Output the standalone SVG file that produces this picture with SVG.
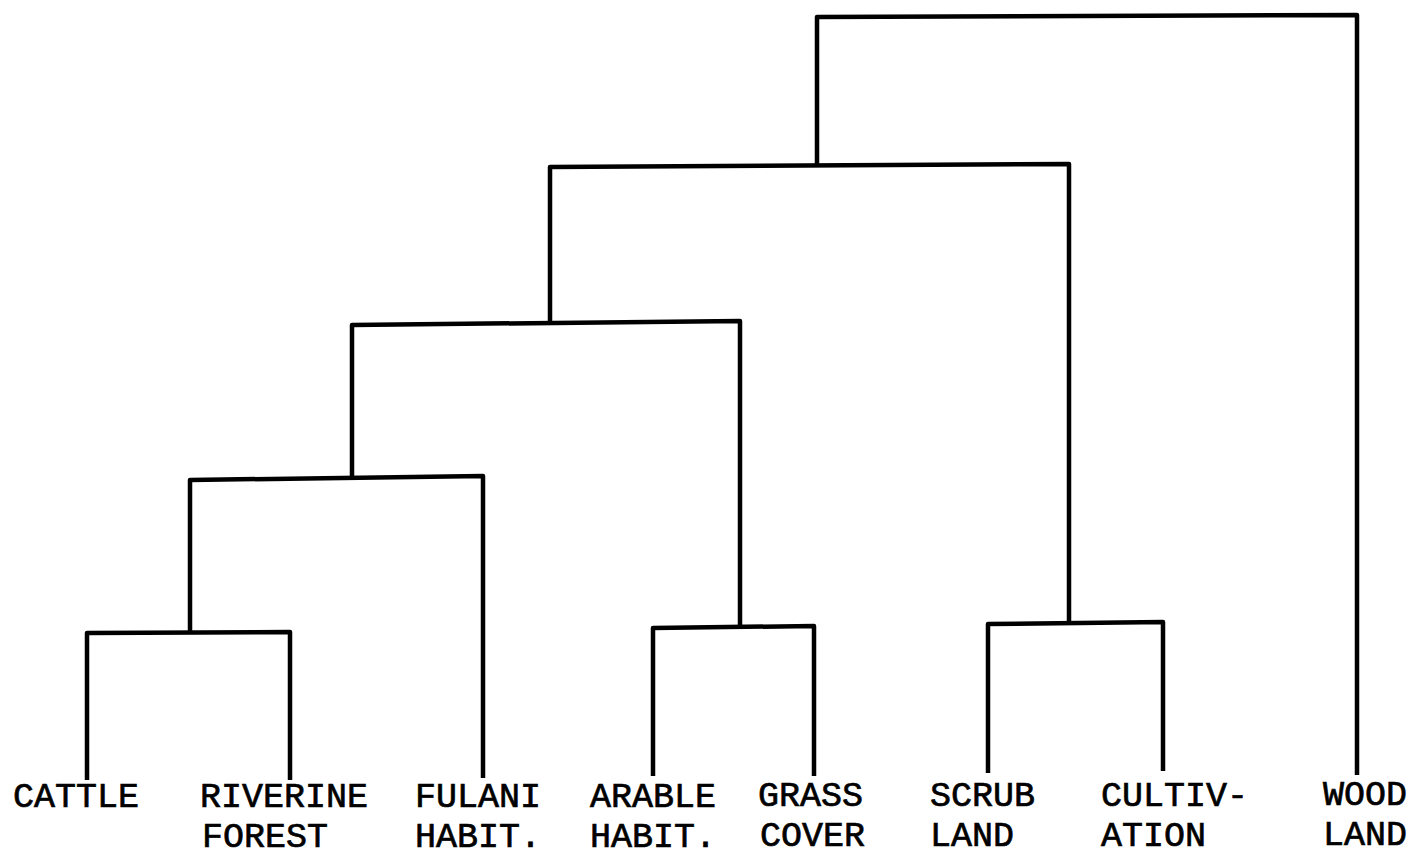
<svg xmlns="http://www.w3.org/2000/svg" width="1415" height="858" viewBox="0 0 1415 858">
<style>
.lnk{fill:none;stroke:#000;stroke-width:4.5;stroke-linejoin:round;stroke-linecap:butt}
.lbl{font-family:"Liberation Mono","Courier New",monospace;font-size:35px;fill:#000;stroke:#000;stroke-width:0.7}
</style>
<rect width="1415" height="858" fill="#fff"/>
<g id="connectors">
<path class="lnk" d="M87,780 L87,633 L290,632 L290,780"/>
<path class="lnk" d="M190,632 L190,480 L483,476 L483,778"/>
<path class="lnk" d="M653,776 L653,628 L814,626 L814,776"/>
<path class="lnk" d="M988,773 L988,624 L1163,622 L1163,771"/>
<path class="lnk" d="M352,478 L352,325 L740,321 L740,626"/>
<path class="lnk" d="M550,323 L550,167 L1069,164 L1069,622"/>
<path class="lnk" d="M817,165 L817,17 L1357,15 L1357,775"/>
</g>
<g id="cattle"><text class="lbl" x="13" y="807">CATTLE</text></g>
<g id="riverine-forest"><text class="lbl" x="200" y="807">RIVERINE</text><text class="lbl" x="202" y="847">FOREST</text></g>
<g id="fulani-habit"><text class="lbl" x="415" y="807">FULANI</text><text class="lbl" x="415" y="847">HABIT.</text></g>
<g id="arable-habit"><text class="lbl" x="590" y="807">ARABLE</text><text class="lbl" x="590" y="847">HABIT.</text></g>
<g id="grass-cover"><text class="lbl" x="758" y="806">GRASS</text><text class="lbl" x="760" y="846">COVER</text></g>
<g id="scrub-land"><text class="lbl" x="930" y="806">SCRUB</text><text class="lbl" x="930" y="846">LAND</text></g>
<g id="cultivation"><text class="lbl" x="1101" y="806">CULTIV-</text><text class="lbl" x="1101" y="846">ATION</text></g>
<g id="wood-land"><text class="lbl" x="1323" y="805">WOOD</text><text class="lbl" x="1323" y="845">LAND</text></g>
</svg>
